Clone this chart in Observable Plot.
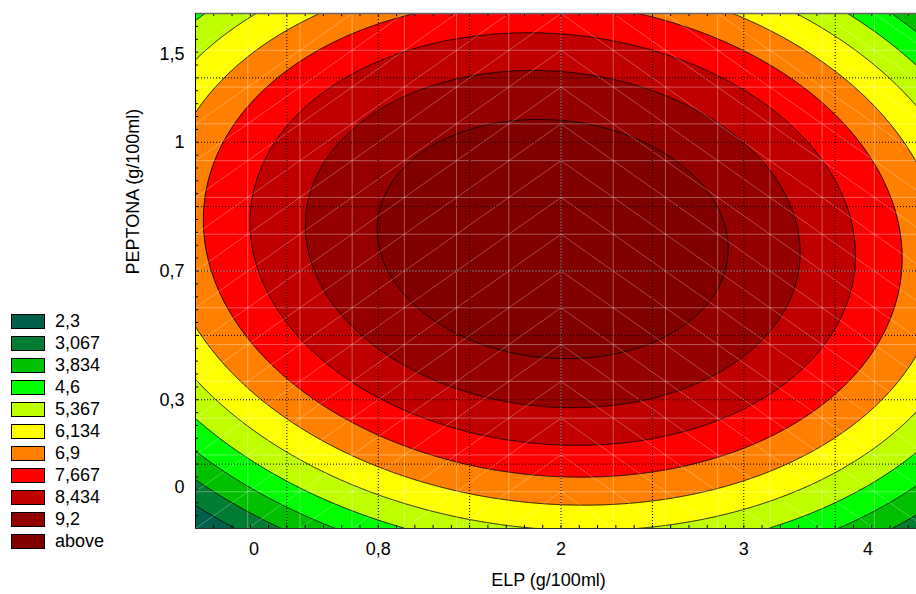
<!DOCTYPE html>
<html>
<head>
<meta charset="utf-8">
<script src="https://cdn.jsdelivr.net/npm/d3@7"></script>
<script src="https://cdn.jsdelivr.net/npm/@observablehq/plot@0.6"></script>
<style>
  body { margin: 0; background: #fff; font-family: "Liberation Sans", Arial, sans-serif; }
  #wrap { position: relative; width: 916px; height: 594px; overflow: hidden; }
  #chart { position: absolute; left: 0; top: 0; }
  #legend { position: absolute; left: 11px; top: 310px; }
  .row { display: flex; align-items: center; height: 22px; font-size: 18px; color: #000; }
  .sw { width: 34px; height: 15px; border: 1px solid #000; box-sizing: border-box; margin-right: 10px; }
</style>
</head>
<body>
<div id="wrap"><div id="chart"></div><div id="legend"></div></div>
<script>
// Contour levels and legend
const levels = [2.3, 3.067, 3.834, 4.6, 5.367, 6.134, 6.9, 7.667, 8.434, 9.2];
const legendLabels = ["2,3", "3,067", "3,834", "4,6", "5,367", "6,134", "6,9", "7,667", "8,434", "9,2", "above"];
const bandColors = ["#00604a", "#007d32", "#00c000", "#00ff00", "#c0ff00", "#ffff00", "#ff8000", "#ff0000", "#c00000", "#940000", "#800000"];

// Axis ticks (coded levels of the design) and their labels
const xTickValues = [-1.68, -1, 0, 1, 1.68];
const xTickLabels = ["0", "0,8", "2", "3", "4"];
const yTickValues = [-1.68, -1, 0, 1, 1.68];
const yTickLabels = ["0", "0,3", "0,7", "1", "1,5"];
const xTitle = "ELP (g/100ml)";
const yTitle = "PEPTONA (g/100ml)";

// Fitted quadratic response surface (coded units): 1, u, v, u², v², uv
const surfaceCoefs = [9.92, -0.042, 0.443, -0.847, -0.905, -0.14];

const surface = (u, v) => {
  const [b0, b1, b2, b11, b22, b12] = surfaceCoefs;
  return b0 + b1 * u + b2 * v + b11 * u * u + b22 * v * v + b12 * u * v;
};

// Decorative structure: wireframe mesh, dotted grid, minor ticks
const meshN = 14;
const meshPos = d3.range(meshN + 1).map(k => -2 + (k * 4) / meshN);
const diagonals = [];
for (let i = 0; i < meshN; i++) {
  for (let j = 0; j < meshN; j++) {
    const ua = meshPos[i], ub = meshPos[i + 1], va = meshPos[j], vb = meshPos[j + 1];
    if (i < meshN / 2) diagonals.push({x1: ua, y1: va, x2: ub, y2: vb});
    else diagonals.push({x1: ua, y1: vb, x2: ub, y2: va});
  }
}
const gridPos = [-1.5, -1, -0.5, 0, 0.5, 1, 1.5];
const minorX = d3.range(-20, 20).map(k => k / 10);
const minorY = d3.range(-20, 21).map(k => k / 10);

const xMax = 1.945;
const font = '"Liberation Sans", Arial, sans-serif';

const chart = Plot.plot({
  width: 916,
  height: 594,
  marginLeft: 195,
  marginRight: 0,
  marginTop: 13,
  marginBottom: 66,
  x: {domain: [-2, xMax], axis: null},
  y: {domain: [-2, 2], axis: null},
  color: {type: "threshold", domain: levels, range: bandColors},
  style: {fontFamily: font, fontSize: "18px", background: "transparent", color: "#000"},
  marks: [
    Plot.frame({fill: bandColors[0], stroke: null}),
    Plot.contour({
      x1: -2.1, x2: 2.1, y1: -2.1, y2: 2.1,
      value: surface,
      fill: "value",
      thresholds: levels,
      stroke: "#000",
      strokeWidth: 0.9,
      pixelSize: 1,
      clip: true
    }),
    // wireframe mesh
    Plot.ruleX(meshPos, {x: d => d, stroke: "#fff", strokeOpacity: 0.33, strokeWidth: 1, clip: true}),
    Plot.ruleY(meshPos, {y: d => d, stroke: "#fff", strokeOpacity: 0.33, strokeWidth: 1, clip: true}),
    Plot.link(diagonals, {x1: "x1", y1: "y1", x2: "x2", y2: "y2", stroke: "#fff", strokeOpacity: 0.28, strokeWidth: 1, clip: true}),
    // dotted grid
    Plot.ruleX(gridPos, {x: d => d, stroke: "#000", strokeDasharray: "1,2", strokeWidth: 1}),
    Plot.ruleY(gridPos, {y: d => d, stroke: "#000", strokeDasharray: "1,2", strokeWidth: 1}),
    // minor ticks on edges
    Plot.ruleX(minorX, {x: d => d, y1: -2, y2: -2 + 0.024, stroke: "#000", strokeWidth: 1}),
    Plot.ruleX(minorX, {x: d => d, y1: 2 - 0.024, y2: 2, stroke: "#000", strokeWidth: 1}),
    Plot.ruleY(minorY, {y: d => d, x1: -2, x2: -2 + 0.017, stroke: "#000", strokeWidth: 1}),
    // edges
    Plot.ruleY([2], {stroke: "#666", strokeWidth: 1.5}),
    Plot.ruleY([-2], {stroke: "#333", strokeWidth: 1}),
    Plot.ruleX([-2], {stroke: "#000", strokeWidth: 1}),
    // axes
    Plot.axisX(xTickValues, {
      anchor: "bottom", tickSize: 0, tickPadding: 14, label: null,
      tickFormat: d => xTickLabels[xTickValues.indexOf(d)], fontSize: 18
    }),
    Plot.axisY(yTickValues, {
      anchor: "left", tickSize: 0, tickPadding: 11, label: null,
      tickFormat: d => yTickLabels[yTickValues.indexOf(d)], fontSize: 18
    }),
    Plot.text([xTitle], {text: d => d, frameAnchor: "bottom", dx: -7.5, dy: 52, fontSize: 18, lineAnchor: "middle"}),
    Plot.text([yTitle], {text: d => d, frameAnchor: "left", rotate: -90, dx: -62, dy: 3.5, fontSize: 18, lineAnchor: "middle"})
  ]
});
document.getElementById("chart").appendChild(chart);

// Legend
const legend = document.getElementById("legend");
legendLabels.forEach((lab, i) => {
  const row = document.createElement("div");
  row.className = "row";
  const sw = document.createElement("div");
  sw.className = "sw";
  sw.style.background = bandColors[i];
  const t = document.createElement("span");
  t.textContent = lab;
  row.appendChild(sw);
  row.appendChild(t);
  legend.appendChild(row);
});
</script>
</body>
</html>
